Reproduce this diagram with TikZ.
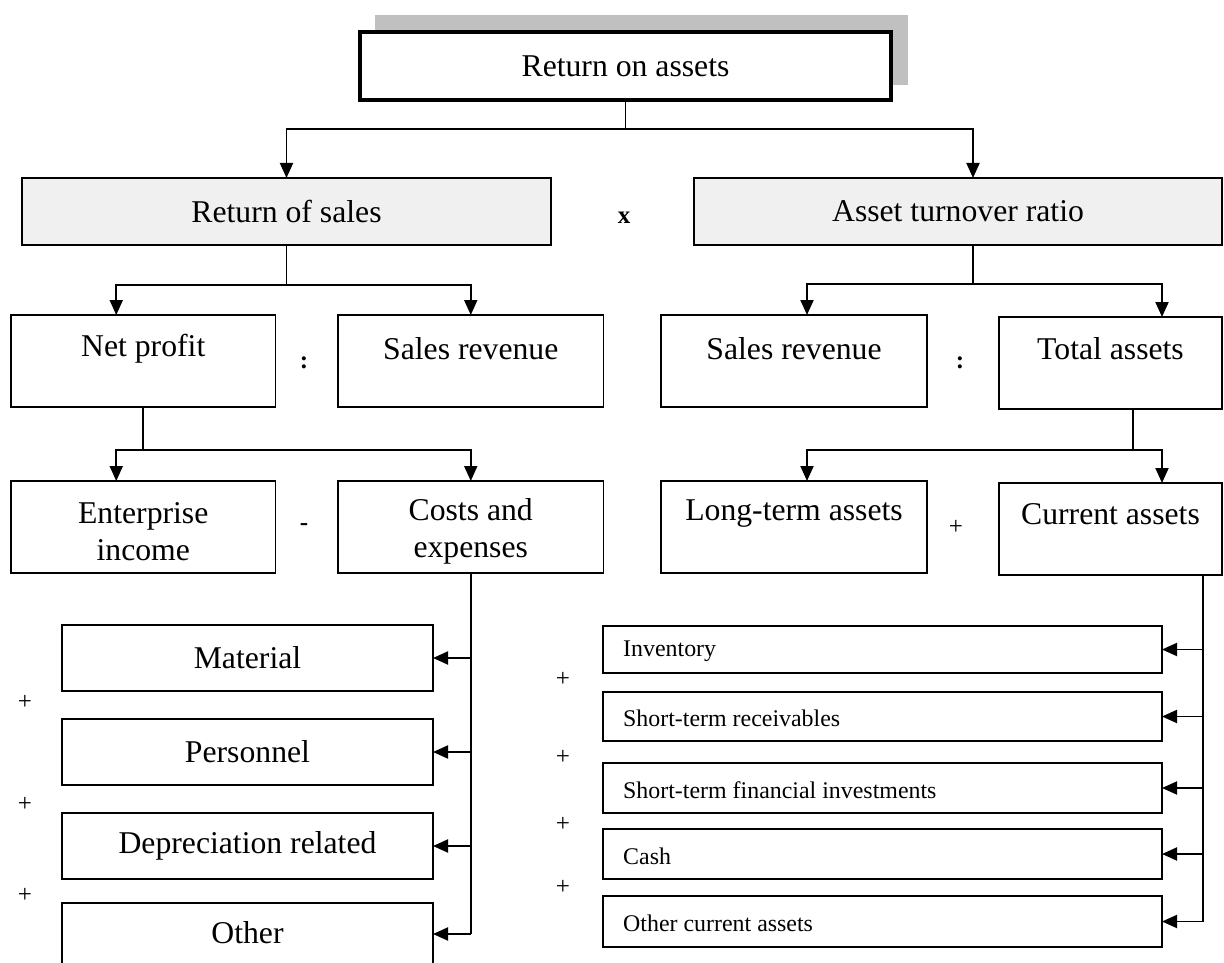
\documentclass[tikz,border=0pt]{standalone}
\usepackage{fontspec}
\setmainfont{Liberation Serif}
\usetikzlibrary{arrows.meta}
\definecolor{shadowgray}{HTML}{C0C0C0}
\definecolor{lightfill}{HTML}{F0F0F0}
\begin{document}
\begin{tikzpicture}[x=1pt,y=-1pt,
  box/.style={draw=black, line width=1.9pt, rectangle, anchor=north west, inner sep=0pt, outer sep=0pt, fill=white},
  big/.style={font=\fontsize{31.7}{37}\selectfont, align=center, inner sep=0pt},
  small/.style={font=\fontsize{23.9}{28}\selectfont, inner sep=0pt, anchor=west},
  op/.style={font=\fontsize{25}{28}\selectfont\bfseries, inner sep=0pt},
  pl/.style={font=\fontsize{25}{28}\selectfont, inner sep=0pt},
  ln/.style={line width=1.9pt},
  arr/.style={line width=1.9pt, -{Triangle[length=15pt,width=13pt]}},
]
\clip (0,0) rectangle (1224,963);
\fill[white] (0,0) rectangle (1224,963);

% top
\fill[shadowgray] (375,15) rectangle (908,85);
\node[box, line width=3.8pt, minimum width=531pt, minimum height=68pt, font=\fontsize{31.7}{37}\selectfont] (roa) at (360,32) {Return on assets};

\node[box, fill=lightfill, minimum width=529pt, minimum height=67pt, font=\fontsize{31.7}{37}\selectfont] (ros) at (22,178) {Return of sales};
\node[box, fill=lightfill, minimum width=528pt, minimum height=67pt, font=\fontsize{31.7}{37}\selectfont] (atr) at (694,178) {Asset turnover ratio};
\node[op] (opx) at (624,218) {x};

% second row
\node[box, minimum width=264.5pt, minimum height=92pt] (np) at (11,315) {};
\node[box, minimum width=265.5pt, minimum height=92pt] (sr1) at (338,315) {};
\node[box, minimum width=266pt, minimum height=92pt] (sr2) at (661,315) {};
\node[box, minimum width=223pt, minimum height=92pt] (ta) at (999,317) {};
\node[big] (tnp) at ([yshift=-34pt]np.north) {Net profit};
\node[big] (tsr1) at ([yshift=-34pt]sr1.north) {Sales revenue};
\node[big] (tsr2) at ([yshift=-34pt]sr2.north) {Sales revenue};
\node[big] (tta) at ([yshift=-32pt]ta.north) {Total assets};
\node[op] (opc1) at (304,363) {:};
\node[op] (opc2) at (960,363) {:};

% third row
\node[box, minimum width=264.5pt, minimum height=92pt] (ei) at (11,481) {};
\node[box, minimum width=265.5pt, minimum height=92pt] (ce) at (338,481) {};
\node[box, minimum width=266pt, minimum height=92pt] (lt) at (661,481) {};
\node[box, minimum width=223pt, minimum height=92pt] (ca) at (999,483) {};
\node[big] (tei) at ([yshift=-50.5pt]ei.north) {Enterprise\\income};
\node[big] (tce) at ([yshift=-50.5pt]ce.north) {Costs and\\expenses};
\node[big] (tlt) at ([yshift=-33pt]lt.north) {Long-term assets};
\node[big] (tca) at ([yshift=-31pt]ca.north) {Current assets};
\node[op] (opm) at (304,527) {-};
\node[pl] (opp) at (956,527) {+};

% cost items
\node[box, minimum width=371pt, minimum height=66pt, font=\fontsize{31.7}{37}\selectfont] (mat) at (62,625) {Material};
\node[box, minimum width=371pt, minimum height=66pt, font=\fontsize{31.7}{37}\selectfont] (per) at (62,719) {Personnel};
\node[box, minimum width=371pt, minimum height=66pt, font=\fontsize{31.7}{37}\selectfont] (dep) at (62,813) {Depreciation related};
\node[box, minimum width=371pt, minimum height=62pt, font=\fontsize{31.7}{37}\selectfont] (oth) at (62,903) {};
\node[big] (toth) at (247.5,933) {Other};
\node[pl] (pa1) at (25,702) {+};
\node[pl] (pa2) at (25,804) {+};
\node[pl] (pa3) at (25,895) {+};

% current asset items
\node[box, minimum width=559pt, minimum height=47pt] (inv) at (603,626) {};
\node[box, minimum width=559pt, minimum height=49pt] (rec) at (603,692) {};
\node[box, minimum width=559pt, minimum height=50pt] (fin) at (603,763) {};
\node[box, minimum width=559pt, minimum height=50pt] (cash) at (603,829) {};
\node[box, minimum width=559pt, minimum height=51pt] (oca) at (603,896) {};
\node[small] (tinv) at ([xshift=20pt,yshift=-2pt]inv.west) {Inventory};
\node[small] (trec) at ([xshift=20pt,yshift=-2pt]rec.west) {Short-term receivables};
\node[small] (tfin) at ([xshift=20pt,yshift=-2pt]fin.west) {Short-term financial investments};
\node[small] (tcash) at ([xshift=20pt,yshift=-2pt]cash.west) {Cash};
\node[small] (toca) at ([xshift=20pt,yshift=-2pt]oca.west) {Other current assets};
\node[pl] (pb1) at (563,679) {+};
\node[pl] (pb2) at (563,757) {+};
\node[pl] (pb3) at (563,824) {+};
\node[pl] (pb4) at (563,887) {+};

% connectors
\coordinate (j0) at (625.5,129);
\draw[ln] (roa.south) -- (j0);
\draw[arr] (j0) -| (ros.north);
\draw[arr] (j0) -| ([xshift=15pt]atr.north);

\coordinate (j1) at (286.5,285);
\draw[ln] (ros.south) -- (j1);
\draw[arr] (j1) -| ([xshift=-27pt]np.north);
\draw[arr] (j1) -| (sr1.north);

\coordinate (j2) at (143.25,450);
\draw[ln] (np.south) -- (j2);
\draw[arr] (j2) -| ([xshift=-27pt]ei.north);
\draw[arr] (j2) -| (ce.north);

\coordinate (j3) at (973,284);
\draw[ln] ([xshift=15pt]atr.south) -- (j3);
\draw[arr] (j3) -| ([xshift=13pt]sr2.north);
\draw[arr] (j3) -| ([xshift=51.5pt]ta.north);

\coordinate (j4) at (1133,450);
\draw[ln] ([xshift=22.5pt]ta.south) -- (j4);
\draw[arr] (j4) -| ([xshift=13pt]lt.north);
\draw[arr] (j4) -| ([xshift=51.5pt]ca.north);

\coordinate (j5) at (470.75,934);
\draw[ln] (ce.south) -- (j5);
\draw[arr] (ce.south |- mat.east) -- (mat.east);
\draw[arr] (ce.south |- per.east) -- (per.east);
\draw[arr] (ce.south |- dep.east) -- (dep.east);
\draw[arr] (j5) -- (oth.east);

\coordinate (j6) at (1203,921.5);
\draw[ln] ([xshift=92.5pt]ca.south) -- (j6);
\draw[arr] (j6 |- inv.east) -- (inv.east);
\draw[arr] (j6 |- rec.east) -- (rec.east);
\draw[arr] (j6 |- fin.east) -- (fin.east);
\draw[arr] (j6 |- cash.east) -- (cash.east);
\draw[arr] (j6) -- (oca.east);
\end{tikzpicture}
\end{document}
